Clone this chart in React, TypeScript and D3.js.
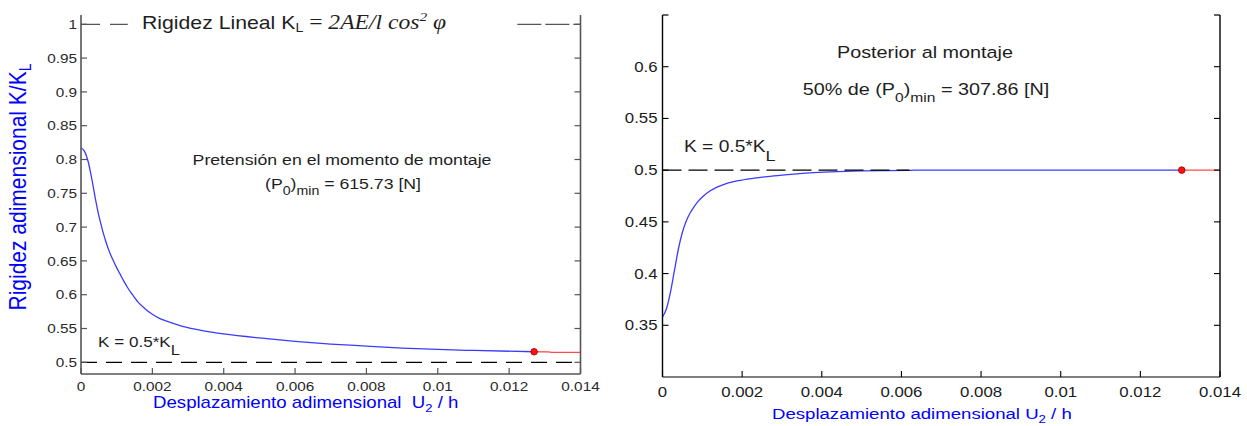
import React from "react";
import * as d3 from "d3";

// Non-dimensional displacement ticks (shared by both panels)
const xTicks = [0, 0.002, 0.004, 0.006, 0.008, 0.01, 0.012, 0.014];
const xTickLabels = ["0", "0.002", "0.004", "0.006", "0.008", "0.01", "0.012", "0.014"];

// Left panel: stiffness at assembly pretension
const leftYTicks = [0.5, 0.55, 0.6, 0.65, 0.7, 0.75, 0.8, 0.85, 0.9, 0.95, 1];
const leftYTickLabels = ["0.5", "0.55", "0.6", "0.65", "0.7", "0.75", "0.8", "0.85", "0.9", "0.95", "1"];
const leftU = [0, 0.0001, 0.0002, 0.0003, 0.0004, 0.0005, 0.0006, 0.0007, 0.0008, 0.0009, 0.001, 0.0011, 0.0012, 0.0013, 0.0014, 0.0015, 0.0016, 0.0018, 0.002, 0.0022, 0.0024, 0.0028, 0.0032, 0.0036, 0.004, 0.005, 0.006, 0.007, 0.008, 0.009, 0.01, 0.011, 0.0127];
const leftK = [0.817, 0.812, 0.797, 0.772, 0.743, 0.717, 0.696, 0.678, 0.663, 0.651, 0.64, 0.63, 0.62, 0.611, 0.603, 0.596, 0.589, 0.579, 0.571, 0.565, 0.561, 0.554, 0.549, 0.545, 0.542, 0.536, 0.531, 0.527, 0.524, 0.521, 0.519, 0.5175, 0.5156];
const leftTailU = [0.0127, 0.0131, 0.0132, 0.014];
const leftTailK = [0.5156, 0.5153, 0.5148, 0.5147];
const leftMarker = { u: 0.0127, k: 0.5156 };

// Right panel: stiffness after assembly (50 % pretension)
const rightYTicks = [0.35, 0.4, 0.45, 0.5, 0.55, 0.6];
const rightYTickLabels = ["0.35", "0.4", "0.45", "0.5", "0.55", "0.6"];
const rightU = [0, 0.0001, 0.0002, 0.0003, 0.0004, 0.0005, 0.0006, 0.0007, 0.0008, 0.0009, 0.001, 0.0012, 0.0014, 0.0016, 0.0019, 0.0023, 0.0028, 0.0033, 0.0038, 0.0044, 0.005, 0.0056, 0.0062, 0.0063, 0.01304];
const rightK = [0.358, 0.366, 0.382, 0.403, 0.424, 0.44, 0.451, 0.459, 0.465, 0.47, 0.474, 0.48, 0.484, 0.487, 0.4898, 0.4922, 0.4945, 0.4962, 0.4976, 0.4986, 0.4992, 0.4995, 0.4997, 0.5, 0.5];
const rightTailU = [0.01304, 0.014];
const rightTailK = [0.5, 0.5];
const rightMarker = { u: 0.01304, k: 0.5 };

const SANS = "'Liberation Sans', Arial, sans-serif";
const SERIF = "'Liberation Serif', 'Times New Roman', serif";
const BLUE_LINE = "#3b3bff";
const RED_LINE = "#ff4a4a";
const LABEL_BLUE = "#0000ff";
const INK = "#1e1e1e";

type TProps = {
  x: number; y: number; size: number; sx: number;
  anchor?: "start" | "middle" | "end"; fill?: string; family?: string;
  rotate?: number; children: React.ReactNode;
};
function T({ x, y, size, sx, anchor = "start", fill = INK, family = SANS, rotate, children }: TProps) {
  const tr = `translate(${x},${y}) scale(${sx},1)` + (rotate ? ` rotate(${rotate})` : "");
  return (
    <text transform={tr} fontSize={size} fontFamily={family} textAnchor={anchor} fill={fill} style={{ whiteSpace: "pre" }}>
      {children}
    </text>
  );
}

function pairs(us: number[], ks: number[]): [number, number][] {
  return us.map((u, i) => [u, ks[i]]);
}

export default function App() {
  // Left panel scales
  const xL = d3.scaleLinear().domain([0, 0.014]).range([81, 580.5]);
  const yL = d3.scaleLinear().domain([0.5, 1]).range([362.3, 24.3]);
  const topL = 15, botL = 374;
  // Right panel scales
  const xR = d3.scaleLinear().domain([0, 0.014]).range([662.5, 1220]);
  const yR = d3.scaleLinear().domain([0.3, 0.65]).range([377, 15]);
  const topR = 15, botR = 377;

  const lineL = d3.line<[number, number]>().x(d => xL(d[0])).y(d => yL(d[1])).curve(d3.curveMonotoneX);
  const lineR = d3.line<[number, number]>().x(d => xR(d[0])).y(d => yR(d[1])).curve(d3.curveMonotoneX);

  const SXL = 1.18;
  const SXR = 1.2;
  const tickLen = 6;

  return (
    <div style={{ position: "absolute", left: 0, top: 0 }}>
      <svg width={1247} height={426} viewBox="0 0 1247 426" style={{ display: "block", background: "#fff" }}>
        {/* ---------- Left panel ---------- */}
        <g>
          {/* reference levels */}
          <line x1={xL(0)} x2={xL(0.00131)} y1={yL(1)} y2={yL(1)} stroke="#555" strokeWidth={1.3} strokeDasharray="19,10" />
          <line x1={xL(0.01223)} x2={xL(0.014)} y1={yL(1)} y2={yL(1)} stroke="#555" strokeWidth={1.3} strokeDasharray="24,4" />
          <line x1={xL(0)} x2={xL(0.014)} y1={yL(0.5)} y2={yL(0.5)} stroke="#000" strokeWidth={1.2} strokeDasharray="16,9" />

          {/* curves */}
          <path d={lineL(pairs(leftU, leftK)) || ""} fill="none" stroke={BLUE_LINE} strokeWidth={1.3} />
          <path d={lineL(pairs(leftTailU, leftTailK)) || ""} fill="none" stroke={RED_LINE} strokeWidth={1.3} />
          <circle cx={xL(leftMarker.u)} cy={yL(leftMarker.k)} r={3.3} fill="#ff1010" stroke="#a00000" strokeWidth={0.8} />

          {/* axes box */}
          <line x1={xL(0)} x2={xL(0)} y1={topL} y2={botL} stroke="#555" strokeWidth={1.6} />
          <line x1={xL(0.014)} x2={xL(0.014)} y1={topL} y2={botL} stroke="#555" strokeWidth={1.6} />
          <line x1={xL(0)} x2={xL(0.014)} y1={botL} y2={botL} stroke="#555" strokeWidth={1.3} />
          {leftYTicks.map((v, i) => (
            <g key={"ly" + i}>
              <line x1={xL(0)} x2={xL(0) + tickLen} y1={yL(v)} y2={yL(v)} stroke="#555" strokeWidth={1.2} />
              <line x1={xL(0.014) - tickLen} x2={xL(0.014)} y1={yL(v)} y2={yL(v)} stroke="#555" strokeWidth={1.2} />
              <T x={xL(0) - 4} y={yL(v) + 4.7} size={13} sx={SXL} anchor="end" fill="#2a2a2a">{leftYTickLabels[i]}</T>
            </g>
          ))}
          {xTicks.map((v, i) => (
            <g key={"lx" + i}>
              <line x1={xL(v)} x2={xL(v)} y1={botL} y2={botL - tickLen} stroke="#555" strokeWidth={1.2} />
              <T x={xL(v)} y={391} size={13} sx={SXL} anchor="middle" fill="#2a2a2a">{xTickLabels[i]}</T>
            </g>
          ))}

          {/* title line */}
          <T x={142} y={28.5} size={18} sx={SXL}>
            Rigidez Lineal K
            <tspan fontSize={12} dy={3}>L</tspan>
            <tspan dy={-3} fontFamily={SERIF} fontSize={20}> = </tspan>
            <tspan fontFamily={SERIF} fontSize={20} fontStyle="italic">2AE/l cos</tspan>
            <tspan fontFamily={SERIF} fontSize={13} fontStyle="italic" dy={-8}>2</tspan>
            <tspan fontFamily={SERIF} fontSize={20} fontStyle="italic" dy={8}> φ</tspan>
          </T>

          {/* annotations */}
          <T x={342} y={164.5} size={15} sx={SXL} anchor="middle">Pretensión en el momento de montaje</T>
          <T x={343} y={188.5} size={15} sx={SXL} anchor="middle">
            (P<tspan dy={6} fontSize={12}>0</tspan><tspan dy={-6}>)</tspan><tspan dy={6} fontSize={12}>min</tspan><tspan dy={-6}> = 615.73 [N]</tspan>
          </T>
          <T x={98} y={347} size={14.5} sx={SXL}>
            K = 0.5*K<tspan dy={8} fontSize={14}>L</tspan>
          </T>

          {/* axis labels */}
          <T x={153} y={407.5} size={15.8} sx={SXL} fill={LABEL_BLUE}>
            Desplazamiento adimensional  U<tspan dy={4} fontSize={11}>2</tspan><tspan dy={-4}> / h</tspan>
          </T>
          <T x={26} y={187} size={21} sx={SXL} anchor="middle" rotate={-90} fill={LABEL_BLUE}>
            Rigidez adimensional K/K<tspan dy={4} fontSize={14}>L</tspan>
          </T>
        </g>

        {/* ---------- Right panel ---------- */}
        <g>
          <path d={lineR(pairs(rightU, rightK)) || ""} fill="none" stroke={BLUE_LINE} strokeWidth={1.3} />
          <line x1={xR(0)} x2={xR(0.0062)} y1={yR(0.5)} y2={yR(0.5)} stroke="#000" strokeWidth={1.2} strokeDasharray="19,7" />
          <path d={lineR(pairs(rightTailU, rightTailK)) || ""} fill="none" stroke={RED_LINE} strokeWidth={1.3} />
          <circle cx={xR(rightMarker.u)} cy={yR(rightMarker.k)} r={3.3} fill="#ff1010" stroke="#a00000" strokeWidth={0.8} />

          {/* axes */}
          <line x1={xR(0)} x2={xR(0)} y1={topR} y2={botR} stroke="#000" strokeWidth={1.4} />
          <line x1={xR(0.014)} x2={xR(0.014)} y1={topR} y2={botR} stroke="#000" strokeWidth={1.4} />
          <line x1={xR(0)} x2={xR(0.014)} y1={botR} y2={botR} stroke="#000" strokeWidth={1.2} />
          <line x1={xR(0)} x2={xR(0) + 6} y1={topR} y2={topR} stroke="#000" strokeWidth={1.2} />
          <line x1={xR(0.014) - 6} x2={xR(0.014)} y1={topR} y2={topR} stroke="#000" strokeWidth={1.2} />
          {rightYTicks.map((v, i) => (
            <g key={"ry" + i}>
              <line x1={xR(0)} x2={xR(0) + tickLen} y1={yR(v)} y2={yR(v)} stroke="#000" strokeWidth={1.1} />
              <line x1={xR(0.014) - tickLen} x2={xR(0.014)} y1={yR(v)} y2={yR(v)} stroke="#000" strokeWidth={1.1} />
              <T x={xR(0) - 5} y={yR(v) + 5} size={14} sx={SXR} anchor="end" fill="#1a1a1a">{rightYTickLabels[i]}</T>
            </g>
          ))}
          {xTicks.map((v, i) => (
            <g key={"rx" + i}>
              <line x1={xR(v)} x2={xR(v)} y1={botR} y2={botR - tickLen} stroke="#000" strokeWidth={1.1} />
              <T x={xR(v)} y={397} size={14} sx={SXR} anchor="middle" fill="#1a1a1a">{xTickLabels[i]}</T>
            </g>
          ))}

          <T x={925} y={57.5} size={16.5} sx={SXR} anchor="middle">Posterior al montaje</T>
          <T x={926} y={95} size={16.5} sx={SXR} anchor="middle">
            50% de (P<tspan dy={7} fontSize={13}>0</tspan><tspan dy={-7}>)</tspan><tspan dy={7} fontSize={13}>min</tspan><tspan dy={-7}> = 307.86 [N]</tspan>
          </T>
          <T x={684} y={152} size={16} sx={SXR}>
            K = 0.5*K<tspan dy={9} fontSize={15}>L</tspan>
          </T>
          <T x={772} y={419} size={15.5} sx={SXR} fill={LABEL_BLUE}>
            Desplazamiento adimensional U<tspan dy={4} fontSize={11}>2</tspan><tspan dy={-4}> / h</tspan>
          </T>
        </g>
      </svg>
    </div>
  );
}
